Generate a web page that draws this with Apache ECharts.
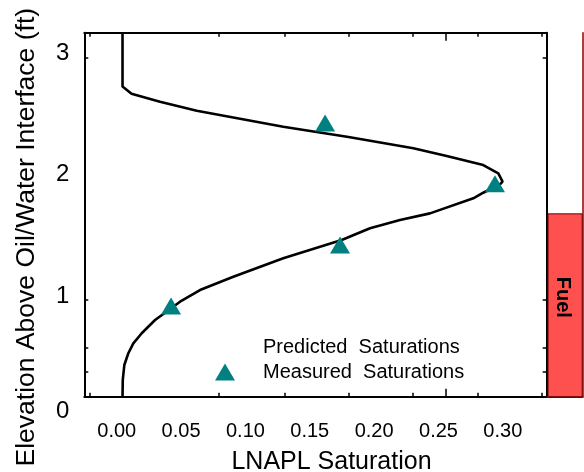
<!DOCTYPE html>
<html>
<head>
<meta charset="utf-8">
<script src="https://cdn.jsdelivr.net/npm/echarts@6/dist/echarts.min.js"></script>
<style>
html,body{margin:0;padding:0;background:#fff;}
#chart{width:584px;height:472px;}
</style>
</head>
<body>
<div id="chart"></div>
<script>
// ---- data ----
var predictedSat  = [0.0045, 0.0045, 0.0115, 0.0336, 0.0622, 0.1294, 0.1801, 0.2305, 0.2564, 0.2848, 0.2965, 0.2998, 0.2978, 0.2848, 0.2771, 0.2434, 0.2201, 0.1968, 0.1748, 0.1294, 0.0906, 0.0647, 0.0492, 0.0298, 0.0194, 0.0129, 0.0090, 0.0059, 0.0047, 0.0045];
var predictedElev = [3.203, 2.759, 2.699, 2.634, 2.560, 2.428, 2.343, 2.250, 2.187, 2.112, 2.044, 1.975, 1.953, 1.884, 1.838, 1.714, 1.659, 1.591, 1.494, 1.344, 1.192, 1.082, 0.986, 0.835, 0.726, 0.643, 0.561, 0.464, 0.341, 0.203];
var measuredSat   = [0.1619, 0.2939, 0.1735, 0.0422];
var measuredElev  = [2.459, 1.958, 1.453, 0.950];
var fuelCategory  = ['Fuel'];
var fuelTop       = [1.714];
var xTickLabels   = [0.00, 0.05, 0.10, 0.15, 0.20, 0.25, 0.30];
var xTickMarks    = [-0.0207, 0.0795, 0.1302, 0.1801, 0.2302, 0.2802, 0.3302];
var xLongTick     = [0.2555];
var yTickLabels   = [0, 1, 2, 3];
var yTickMarks    = [3, 1, 0.607, 0.409];
var seriesNames   = ['Predicted  Saturations', 'Measured  Saturations'];

var xMin = -0.0252, xMax = 0.3341;
var yMin = 0.203, yMax = 3.203;

var FONT = 'Liberation Sans, Arial, sans-serif';
var chart = echarts.init(document.getElementById('chart'), null, {renderer: 'canvas'});

var lineData = predictedSat.map(function (v, i) { return [v, predictedElev[i]]; });
var scatterData = measuredSat.map(function (v, i) { return [v, measuredElev[i]]; });
// label positions: "0" sits at the bottom edge of the frame
var yLabelValues = yTickLabels.map(function (v) { return v < yMin ? yMin : v; });

function frameX(pos, ticks, len) {
  return {
    type: 'value', gridIndex: 0, position: pos, min: xMin, max: xMax,
    axisLine: {show: true, onZero: false, lineStyle: {color: '#000', width: 2}},
    axisTick: {show: true, inside: true, length: len, customValues: ticks, lineStyle: {color: '#000', width: 1.5}},
    axisLabel: {show: false}, splitLine: {show: false}
  };
}
function frameY(pos) {
  return {
    type: 'value', gridIndex: 0, position: pos, min: yMin, max: yMax,
    axisLine: {show: true, onZero: false, lineStyle: {color: '#000', width: 2}},
    axisTick: {show: true, inside: true, length: 4, customValues: yTickMarks, lineStyle: {color: '#000', width: 1.5}},
    axisLabel: {show: false}, splitLine: {show: false}
  };
}

var xBottom = frameX('bottom', xTickMarks, 4);
xBottom.axisLabel = {
  show: true, customValues: xTickLabels, margin: 25,
  fontFamily: FONT, fontSize: 20, color: '#000',
  formatter: function (v) { return v.toFixed(2); }
};
xBottom.name = 'LNAPL Saturation';
xBottom.nameLocation = 'middle';
xBottom.nameGap = 53;
xBottom.nameTextStyle = {fontFamily: FONT, fontSize: 25, color: '#000', padding: [0, 0, 0, 32]};

var yLeft = frameY('left');
yLeft.axisLabel = {
  show: true, customValues: yLabelValues, margin: 15,
  fontFamily: FONT, fontSize: 24, color: '#000',
  formatter: function (v) {
    var idx = yLabelValues.indexOf(v);
    var txt = idx >= 0 ? String(yTickLabels[idx]) : String(v);
    return v === yMin ? '{z|' + txt + '}' : '{n|' + txt + '}';
  },
  rich: {
    z: {fontFamily: FONT, fontSize: 24, color: '#000', padding: [30, 0, 0, 0]},
    n: {fontFamily: FONT, fontSize: 24, color: '#000', padding: [0, 0, 8, 0]}
  }
};
yLeft.name = 'Elevation Above Oil/Water Interface (ft)';
yLeft.nameLocation = 'middle';
yLeft.nameGap = 44;
yLeft.nameTextStyle = {fontFamily: FONT, fontSize: 26.5, color: '#000', padding: [0, 45, 0, 0]};

var xLongBottom = frameX('bottom', xLongTick, 8);
xLongBottom.axisLine = {show: false};
var xLongTop = frameX('top', xLongTick, 8);
xLongTop.axisLine = {show: false};

var option = {
  backgroundColor: '#fff',
  animation: false,
  grid: [
    {left: 84.3, right: 37.3, top: 32.7, bottom: 75.3, containLabel: false, outerBoundsMode: 'none'},
    {left: 547.5, width: 35.2, top: 32.7, bottom: 75.3, containLabel: false, outerBoundsMode: 'none'}
  ],
  xAxis: [
    xBottom,
    frameX('top', xTickMarks, 4),
    xLongBottom,
    xLongTop,
    {
      type: 'category', gridIndex: 1, data: fuelCategory, position: 'bottom',
      axisLine: {show: true, lineStyle: {color: '#8b0000', width: 2}},
      axisTick: {show: false}, axisLabel: {show: false}, splitLine: {show: false}
    }
  ],
  yAxis: [
    yLeft,
    frameY('right'),
    {
      type: 'value', gridIndex: 1, position: 'right', min: yMin, max: yMax,
      axisLine: {show: true, onZero: false, lineStyle: {color: '#8b0000', width: 1.5}},
      axisTick: {show: false}, axisLabel: {show: false}, splitLine: {show: false}
    }
  ],
  legend: {
    orient: 'vertical', left: 210, top: 332, itemGap: 5,
    itemWidth: 20, itemHeight: 17,
    textStyle: {fontFamily: FONT, fontSize: 20, color: '#000', lineHeight: 20, padding: [0, 0, 0, 23]},
    data: [
      {name: seriesNames[0], icon: 'rect', itemStyle: {opacity: 0}},
      {name: seriesNames[1], icon: 'triangle'}
    ]
  },
  series: [
    {
      name: seriesNames[0], type: 'line', xAxisIndex: 0, yAxisIndex: 0,
      data: lineData, showSymbol: false, symbol: 'none', smooth: false,
      lineStyle: {color: '#000', width: 2.6}, itemStyle: {color: '#000'}, z: 2
    },
    {
      name: seriesNames[1], type: 'scatter', xAxisIndex: 0, yAxisIndex: 0,
      data: scatterData, symbol: 'triangle', symbolSize: [20, 17],
      itemStyle: {color: '#008080', opacity: 1}, z: 3
    },
    {
      name: 'Fuel', type: 'bar', xAxisIndex: 4, yAxisIndex: 2,
      data: fuelTop, barWidth: '100%', clip: true,
      itemStyle: {color: '#ff5050', borderColor: '#6b0000', borderWidth: 1},
      label: {
        show: true, position: 'inside', rotate: -90, offset: [-8, 3],
        formatter: function (p) { return p.name; },
        fontFamily: FONT, fontSize: 20, fontWeight: 'bold', color: '#000'
      }
    }
  ]
};
chart.setOption(option);
</script>
</body>
</html>
